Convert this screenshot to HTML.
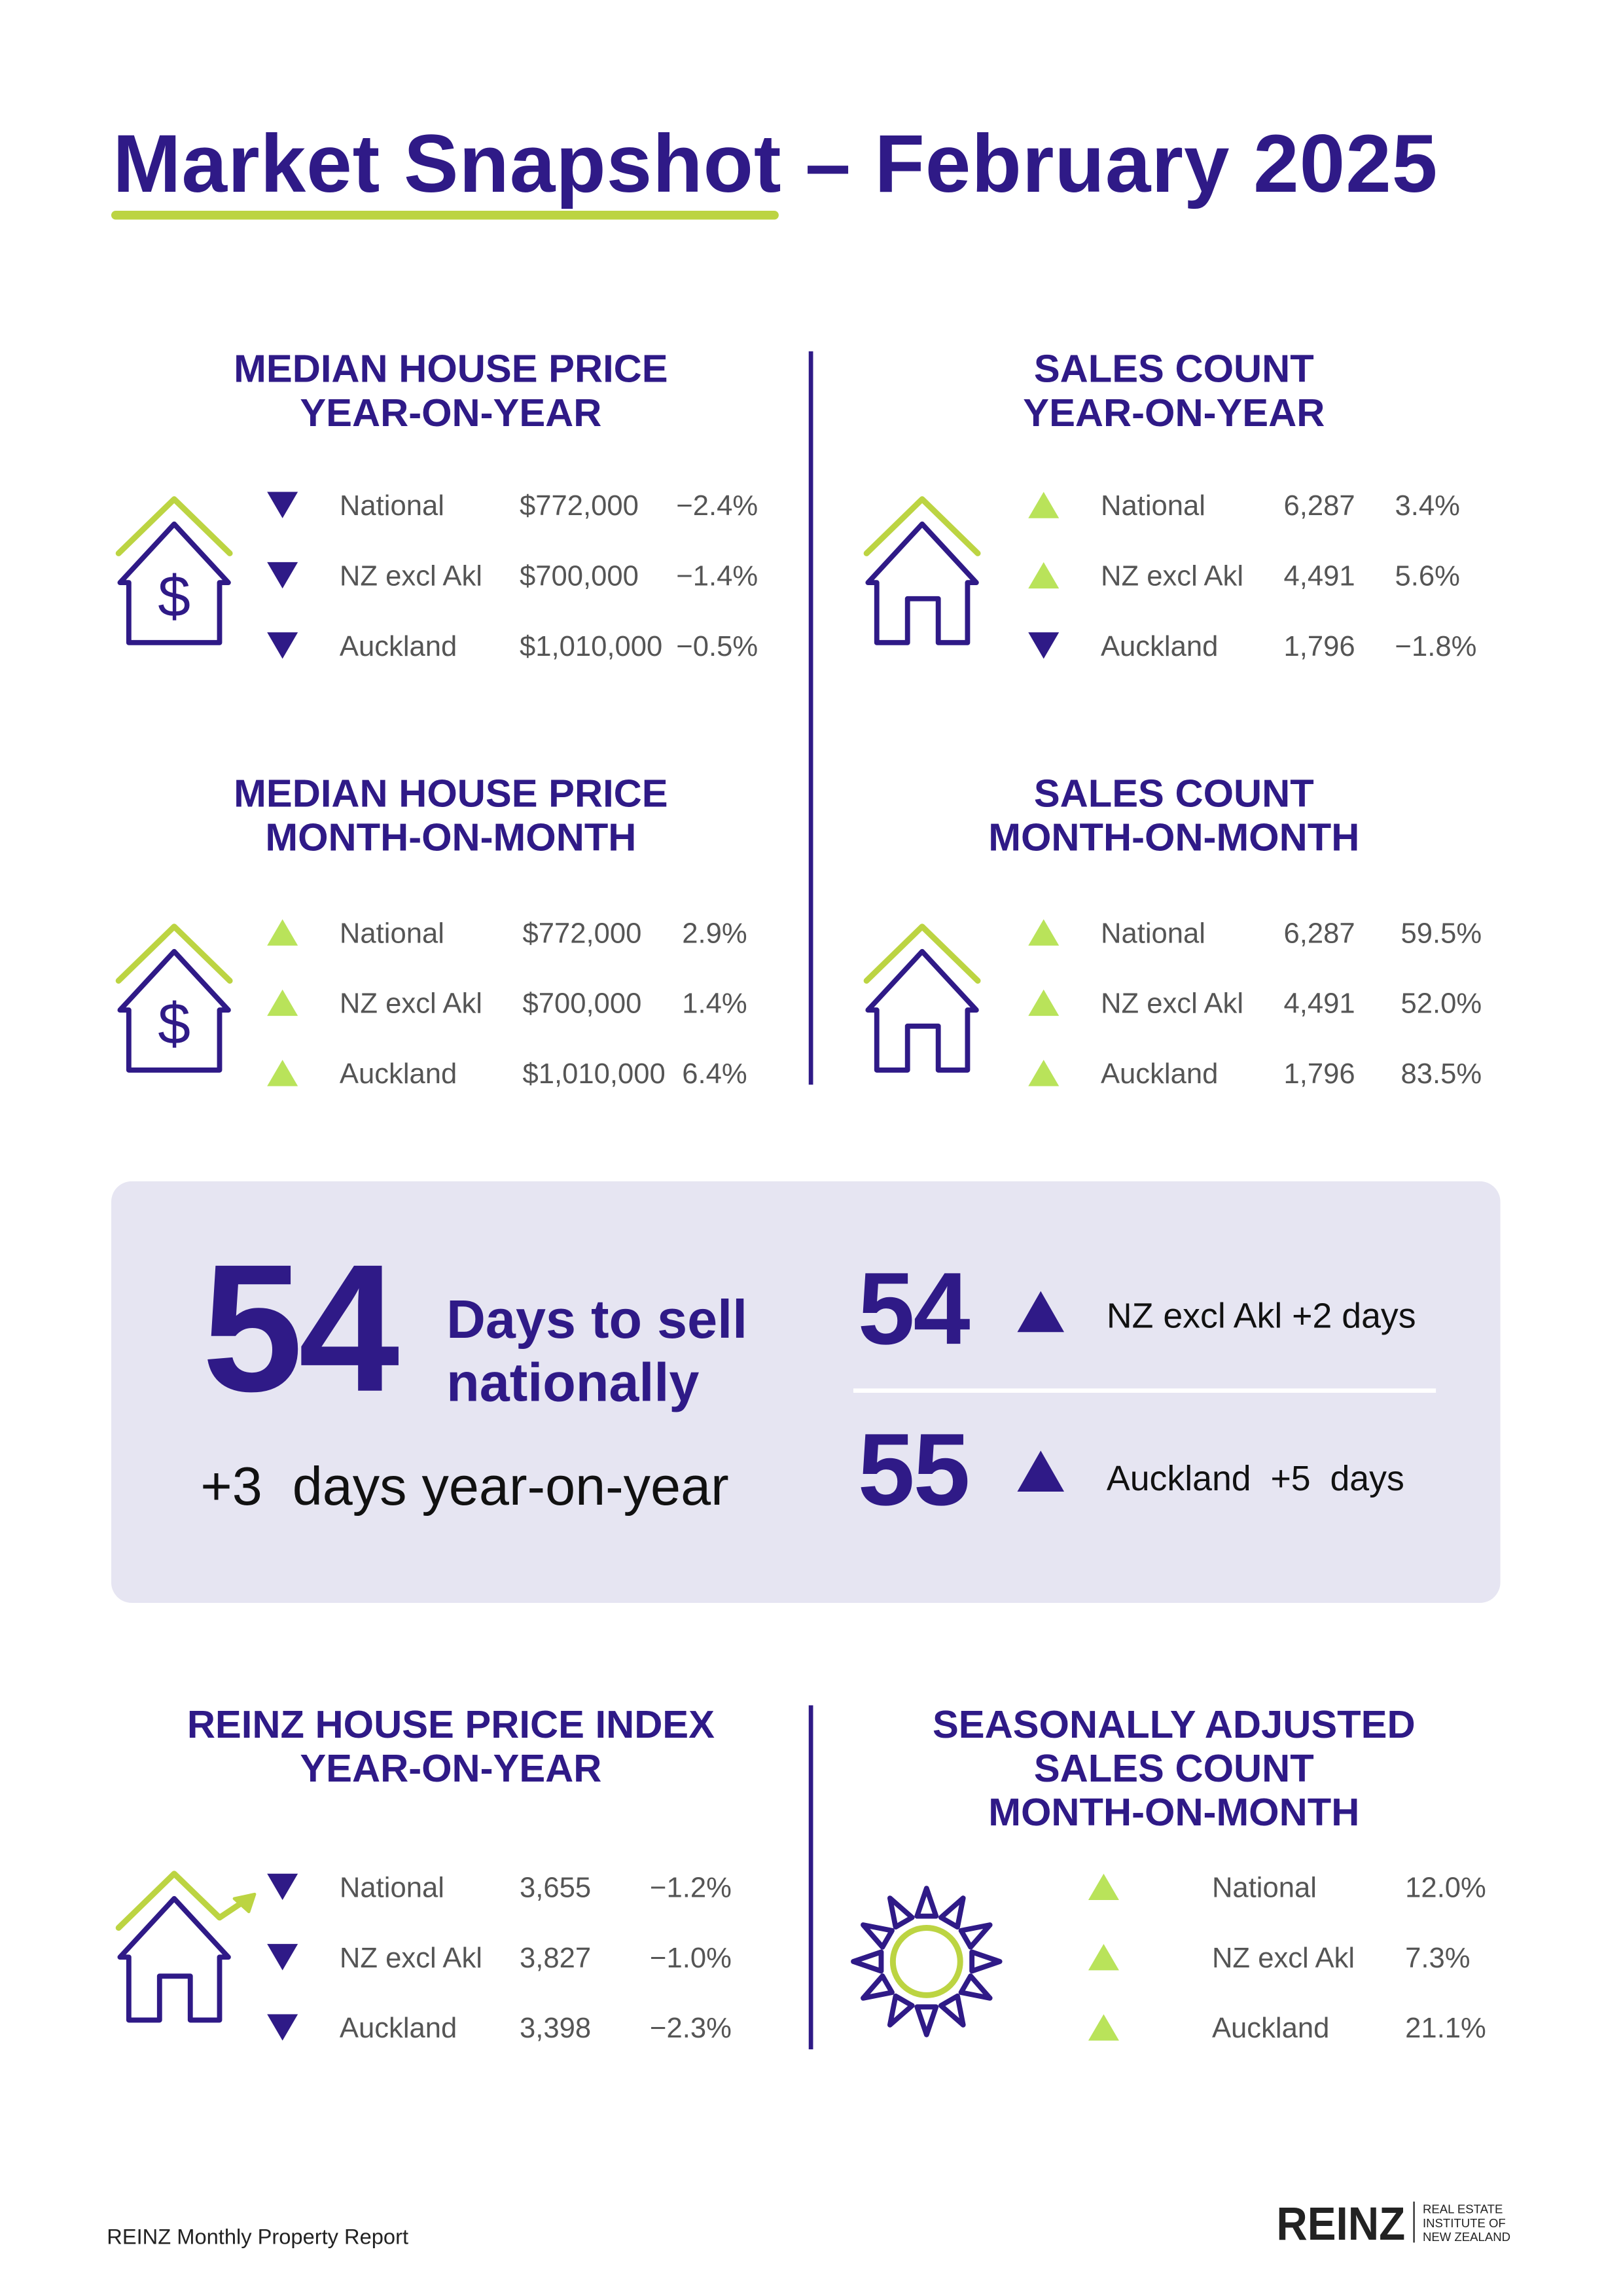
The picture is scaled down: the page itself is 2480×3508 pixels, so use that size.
<!DOCTYPE html>
<html><head><meta charset="utf-8"><title>Market Snapshot – February 2025</title>
<style>
html,body{margin:0;padding:0;background:#fff;}
svg{display:block;}
text{font-family:"Liberation Sans",sans-serif;}
.h{font-weight:bold;fill:#2f1a87;font-size:26.7px;text-anchor:middle;}
.r{fill:#555;font-size:19.5px;}
</style></head>
<body>
<svg id="page" width="2480" height="3508" viewBox="0 0 1108.8 1568.5" preserveAspectRatio="none" xmlns="http://www.w3.org/2000/svg">
<text x="77" y="131" font-size="56" font-weight="bold" fill="#2f1a87" textLength="905">Market Snapshot – February 2025</text>
<rect x="76" y="144" width="456" height="6" rx="3" fill="#bcd442"/>

<line x1="554" y1="240" x2="554" y2="741" stroke="#2f1a87" stroke-width="3"/>
<line x1="554" y1="1165" x2="554" y2="1400" stroke="#2f1a87" stroke-width="3"/>

<text class="h" x="308" y="261">MEDIAN HOUSE PRICE<tspan x="308" y="291">YEAR-ON-YEAR</tspan></text>
<text class="h" x="802" y="261">SALES COUNT<tspan x="802" y="291">YEAR-ON-YEAR</tspan></text>
<text class="h" x="308" y="551">MEDIAN HOUSE PRICE<tspan x="308" y="581">MONTH-ON-MONTH</tspan></text>
<text class="h" x="802" y="551">SALES COUNT<tspan x="802" y="581">MONTH-ON-MONTH</tspan></text>
<text class="h" x="308" y="1187">REINZ HOUSE PRICE INDEX<tspan x="308" y="1217">YEAR-ON-YEAR</tspan></text>
<text class="h" x="802" y="1187">SEASONALLY ADJUSTED<tspan x="802" y="1217">SALES COUNT</tspan><tspan x="802" y="1247">MONTH-ON-MONTH</tspan></text>

<g fill="none" stroke-linecap="round" stroke-linejoin="round">
  <polyline points="81,378 119,341 157,378" stroke="#bcd442" stroke-width="4"/>
  <polyline points="88,439 88,398 82,398 119,358 156,398 150,398 150,439 88,439" stroke="#2f1a87" stroke-width="3.5"/>
  <text x="119" y="421" font-size="40" fill="#2f1a87" stroke="none" text-anchor="middle">$</text>
</g>
<g fill="none" stroke-linecap="round" stroke-linejoin="round">
  <polyline points="81,670 119,633 157,670" stroke="#bcd442" stroke-width="4"/>
  <polyline points="88,731 88,690 82,690 119,650 156,690 150,690 150,731 88,731" stroke="#2f1a87" stroke-width="3.5"/>
  <text x="119" y="713" font-size="40" fill="#2f1a87" stroke="none" text-anchor="middle">$</text>
</g>
<g fill="none" stroke-linecap="round" stroke-linejoin="round">
  <polyline points="592,378 630,341 668,378" stroke="#bcd442" stroke-width="4"/>
  <polyline points="599,439 599,398 593,398 630,358 667,398 661,398 661,439 641,439 641,409 620,409 620,439 599,439" stroke="#2f1a87" stroke-width="3.5"/>
</g>
<g fill="none" stroke-linecap="round" stroke-linejoin="round">
  <polyline points="592,670 630,633 668,670" stroke="#bcd442" stroke-width="4"/>
  <polyline points="599,731 599,690 593,690 630,650 667,690 661,690 661,731 641,731 641,701 620,701 620,731 599,731" stroke="#2f1a87" stroke-width="3.5"/>
</g>
<g fill="none" stroke-linecap="round" stroke-linejoin="round">
  <polyline points="81,1317 119,1280 150,1310 168,1298" stroke="#bcd442" stroke-width="4"/>
  <polygon points="174,1294 160,1297 170,1306" fill="#bcd442" stroke="#bcd442" stroke-width="2"/>
  <polyline points="88,1380 88,1337 82,1337 119,1297 156,1337 150,1337 150,1380 130,1380 130,1350 109,1350 109,1380 88,1380" stroke="#2f1a87" stroke-width="3.5"/>
</g>
<g id="sun" fill="none" stroke-linejoin="round">
  <circle cx="633" cy="1340" r="23" stroke="#bcd442" stroke-width="4"/>
</g>

<rect x="76" y="807" width="949" height="288" rx="14" fill="#e6e5f2"/>
<text x="138" y="950" font-size="124" font-weight="bold" fill="#2f1a87" letter-spacing="-3">54</text>
<text x="305" y="914" font-size="37" font-weight="bold" fill="#2f1a87">Days to sell<tspan x="305" y="957">nationally</tspan></text>
<text x="137" y="1028" font-size="37" fill="#111" xml:space="preserve">+3  days year-on-year</text>
<text x="586" y="918" font-size="70" font-weight="bold" fill="#2f1a87" letter-spacing="-1">54</text>
<polygon points="695,910 711,882 727,910" fill="#2f1a87"/>
<text x="756" y="907" font-size="24" fill="#111">NZ excl Akl  +2 days</text>
<line x1="583" y1="950" x2="981" y2="950" stroke="#fff" stroke-width="3"/>
<text x="586" y="1028" font-size="70" font-weight="bold" fill="#2f1a87" letter-spacing="-1">55</text>
<polygon points="695,1019 711,991 727,1019" fill="#2f1a87"/>
<text x="756" y="1018" font-size="24" fill="#111" xml:space="preserve">Auckland  +5  days</text>

<g id="rows"></g>

<text x="73" y="1533" font-size="14.6" fill="#222">REINZ Monthly Property Report</text>
<text x="872" y="1530" font-size="32" font-weight="bold" fill="#222" textLength="88" lengthAdjust="spacingAndGlyphs">REINZ</text>
<line x1="966" y1="1504" x2="966" y2="1532" stroke="#222" stroke-width="1"/>
<text x="972" y="1512" font-size="8.3" fill="#222">REAL ESTATE<tspan x="972" y="1521.5">INSTITUTE OF</tspan><tspan x="972" y="1531">NEW ZEALAND</tspan></text>
</svg>
<script>
const regions = ["National", "NZ excl Akl", "Auckland"];
const medianYoyValues = ["$772,000", "$700,000", "$1,010,000"];
const medianYoyPct = ["−2.4%", "−1.4%", "−0.5%"];
const medianYoyDir = ["down", "down", "down"];
const salesYoyValues = ["6,287", "4,491", "1,796"];
const salesYoyPct = ["3.4%", "5.6%", "−1.8%"];
const salesYoyDir = ["up", "up", "down"];
const medianMomValues = ["$772,000", "$700,000", "$1,010,000"];
const medianMomPct = ["2.9%", "1.4%", "6.4%"];
const medianMomDir = ["up", "up", "up"];
const salesMomValues = ["6,287", "4,491", "1,796"];
const salesMomPct = ["59.5%", "52.0%", "83.5%"];
const salesMomDir = ["up", "up", "up"];
const hpiValues = ["3,655", "3,827", "3,398"];
const hpiPct = ["−1.2%", "−1.0%", "−2.3%"];
const hpiDir = ["down", "down", "down"];
const saPct = ["12.0%", "7.3%", "21.1%"];
const saDir = ["up", "up", "up"];

const NS = "http://www.w3.org/2000/svg";
const rowsG = document.getElementById("rows");
function mk(tag, attrs) {
  const e = document.createElementNS(NS, tag);
  for (const k in attrs) e.setAttribute(k, attrs[k]);
  return e;
}
function tri(cx, cy, dir, name) {
  let pts;
  if (dir === "down") pts = (cx-10.5)+","+(cy-9)+" "+(cx+10.5)+","+(cy-9)+" "+cx+","+(cy+9);
  else pts = (cx-10.5)+","+(cy+9)+" "+(cx+10.5)+","+(cy+9)+" "+cx+","+(cy-9);
  const p = mk("polygon", {points: pts, fill: dir === "down" ? "#2f1a87" : "#b9e35a"});
  
  
  rowsG.appendChild(p);
}
function txt(x, y, s, name) {
  const t = mk("text", {x: x, y: y, "class": "r"});
  t.textContent = s;
  
  
  rowsG.appendChild(t);
}
function block(prefix, ys, triX, labelX, valX, values, pctX, pcts, dirs) {
  for (let i = 0; i < regions.length; i++) {
    const y = ys[i];
    tri(triX, y, dirs[i], prefix + "-arrow-" + i);
    txt(labelX, y + 7, regions[i], prefix + "-region-" + i);
    if (values) txt(valX, y + 7, values[i], prefix + "-value-" + i);
    txt(pctX, y + 7, pcts[i], prefix + "-change-" + i);
  }
}
block("median-yoy", [345, 393, 441], 193, 232, 355, medianYoyValues, 462, medianYoyPct, medianYoyDir);
block("sales-yoy", [345, 393, 441], 713, 752, 877, salesYoyValues, 953, salesYoyPct, salesYoyDir);
block("median-mom", [637, 685, 733], 193, 232, 357, medianMomValues, 466, medianMomPct, medianMomDir);
block("sales-mom", [637, 685, 733], 713, 752, 877, salesMomValues, 957, salesMomPct, salesMomDir);
block("hpi-yoy", [1289, 1337, 1385], 193, 232, 355, hpiValues, 444, hpiPct, hpiDir);
block("sa-sales", [1289, 1337, 1385], 754, 828, 0, null, 960, saPct, saDir);

const sun = document.getElementById("sun");
for (let i = 0; i < 12; i++) {
  const a = i * Math.PI / 6;
  const r0 = 31, r1 = 50, hw = 6.5;
  const bx = 633 + r0 * Math.sin(a), by = 1340 - r0 * Math.cos(a);
  const px = Math.cos(a), py = Math.sin(a);
  const tx = 633 + r1 * Math.sin(a), ty = 1340 - r1 * Math.cos(a);
  const p = mk("polygon", {points: (bx-hw*px)+","+(by-hw*py)+" "+(bx+hw*px)+","+(by+hw*py)+" "+tx+","+ty, stroke: "#2f1a87", "stroke-width": 3.5});
  
  
  sun.appendChild(p);
}
</script>
</body></html>
